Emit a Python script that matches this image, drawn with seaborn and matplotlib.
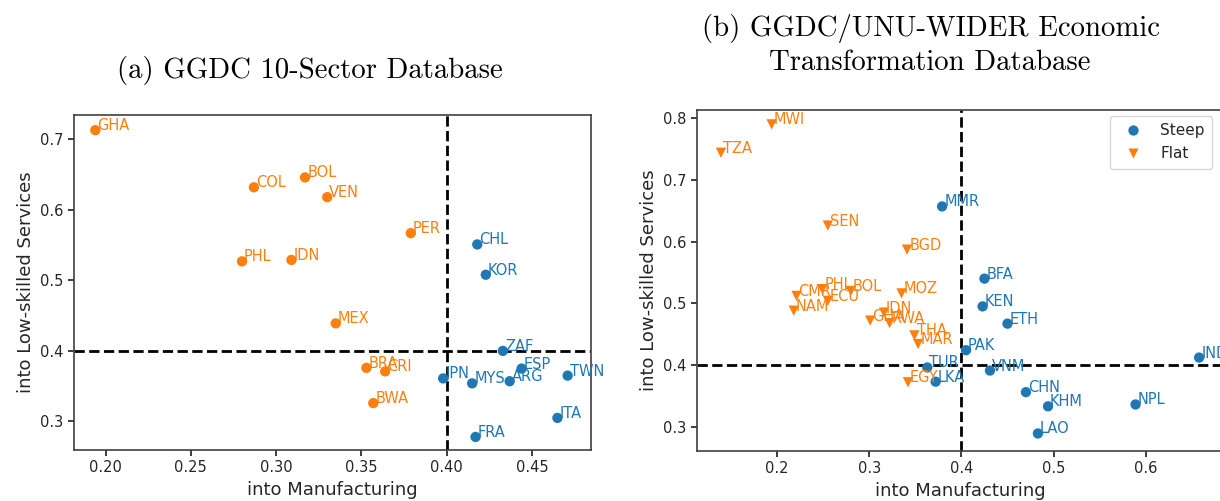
import numpy as np
import pandas as pd
import matplotlib
matplotlib.use("Agg")
import matplotlib.pyplot as plt
import seaborn as sns

# ---------------- Data: panel (a) GGDC 10-Sector ----------------
a_countries = ["GHA", "COL", "BOL", "VEN", "PHL", "IDN", "PER", "MEX", "BRA", "CRI", "BWA",
               "CHL", "KOR", "ZAF", "ESP", "TWN", "ARG", "MYS", "JPN", "ITA", "FRA"]
a_manuf = [0.194, 0.287, 0.317, 0.330, 0.280, 0.309, 0.379, 0.335, 0.353, 0.364, 0.357,
           0.418, 0.423, 0.433, 0.444, 0.471, 0.437, 0.415, 0.398, 0.465, 0.417]
a_lowserv = [0.713, 0.632, 0.646, 0.618, 0.527, 0.529, 0.567, 0.439, 0.376, 0.371, 0.326,
             0.551, 0.508, 0.400, 0.375, 0.365, 0.357, 0.354, 0.361, 0.305, 0.278]
a_group = ["Flat"] * 11 + ["Steep"] * 10

# ---------------- Data: panel (b) GGDC/UNU-WIDER ETD ----------------
b_countries = ["MWI", "TZA", "SEN", "BGD", "CMR", "PHL", "BOL", "ECU", "NAM", "MOZ",
               "IDN", "GHA", "RWA", "THA", "MAR", "EGY",
               "MMR", "BFA", "KEN", "ETH", "PAK", "TUR", "LKA", "VNM", "CHN", "KHM",
               "LAO", "NPL", "IND"]
b_manuf = [0.194, 0.139, 0.255, 0.341, 0.221, 0.249, 0.280, 0.255, 0.218, 0.335,
           0.316, 0.301, 0.322, 0.349, 0.353, 0.342,
           0.379, 0.425, 0.423, 0.450, 0.405, 0.363, 0.372, 0.431, 0.470, 0.494,
           0.483, 0.589, 0.658]
b_lowserv = [0.790, 0.744, 0.626, 0.587, 0.512, 0.523, 0.520, 0.504, 0.488, 0.516,
             0.485, 0.472, 0.468, 0.448, 0.434, 0.372,
             0.657, 0.540, 0.495, 0.467, 0.424, 0.396, 0.373, 0.391, 0.356, 0.333,
             0.289, 0.336, 0.412]
b_group = ["Flat"] * 16 + ["Steep"] * 13

df_a = pd.DataFrame({"country": a_countries, "manuf": a_manuf, "serv": a_lowserv, "group": a_group})
df_b = pd.DataFrame({"country": b_countries, "manuf": b_manuf, "serv": b_lowserv, "group": b_group})

sns.set_theme(style="ticks")
plt.rcParams["font.family"] = ["DejaVu Sans"]

palette = {"Steep": "#1f77b4", "Flat": "#ff7f0e"}

fig = plt.figure(figsize=(12.2, 5.01), dpi=100)
ax1 = fig.add_axes([74 / 1220, 1 - 450 / 501, 517 / 1220, 335 / 501])
ax2 = fig.add_axes([697 / 1220, 1 - 451 / 501, 527 / 1220, 341 / 501])


def draw(ax, df, markers, legend):
    sns.scatterplot(data=df, x="manuf", y="serv", hue="group", style="group",
                    hue_order=["Steep", "Flat"], style_order=["Steep", "Flat"],
                    palette=palette, markers=markers, s=55, edgecolor="none",
                    ax=ax, legend=legend, zorder=3)
    for _, r in df.iterrows():
        ax.annotate(r["country"], (r["manuf"], r["serv"]), color=palette[r["group"]],
                    fontsize=10.5, xytext=(1.5, 0), textcoords="offset points",
                    annotation_clip=False, zorder=4)
    ax.axvline(0.4, color="black", ls="--", lw=2, zorder=2)
    ax.axhline(0.4, color="black", ls="--", lw=2, zorder=2)
    ax.set_xlabel("into Manufacturing", fontsize=13, color="#262626")
    ax.set_ylabel("into Low-skilled Services", fontsize=13, color="#262626")
    ax.tick_params(labelsize=10.5, length=4, colors="#262626")
    for sp in ax.spines.values():
        sp.set_visible(True)
        sp.set_color("#404040")
        sp.set_linewidth(1.2)


draw(ax1, df_a, {"Steep": "o", "Flat": "o"}, False)
ax1.set_xlim(0.1815, 0.4847)
ax1.set_ylim(0.2595, 0.7345)
ax1.set_xticks([0.20, 0.25, 0.30, 0.35, 0.40, 0.45])
ax1.set_xticklabels(["0.20", "0.25", "0.30", "0.35", "0.40", "0.45"])
ax1.set_yticks([0.3, 0.4, 0.5, 0.6, 0.7])

draw(ax2, df_b, {"Steep": "o", "Flat": "v"}, True)
ax2.set_xlim(0.113, 0.685)
ax2.set_ylim(0.2606, 0.8133)
ax2.set_xticks([0.2, 0.3, 0.4, 0.5, 0.6])
ax2.set_yticks([0.3, 0.4, 0.5, 0.6, 0.7, 0.8])
leg = ax2.legend(loc="upper right", bbox_to_anchor=(1220 / 1220, 1 - 108 / 501),
                 bbox_transform=fig.transFigure, fontsize=11, title=None,
                 frameon=True, handletextpad=0.8, borderpad=0.5)
leg.get_frame().set_edgecolor("#cccccc")

fig.text(310 / 1220, 1 - 70 / 501, "(a) GGDC 10-Sector Database", family="cmr10",
         fontsize=20.7, ha="center", va="center", color="black")
fig.text(931 / 1220, 1 - 28 / 501, "(b) GGDC/UNU-WIDER Economic", family="cmr10",
         fontsize=20.7, ha="center", va="center", color="black")
fig.text(930 / 1220, 1 - 63 / 501, "Transformation Database", family="cmr10",
         fontsize=20.7, ha="center", va="center", color="black")

fig.savefig("out.png", dpi=100, facecolor="white")
